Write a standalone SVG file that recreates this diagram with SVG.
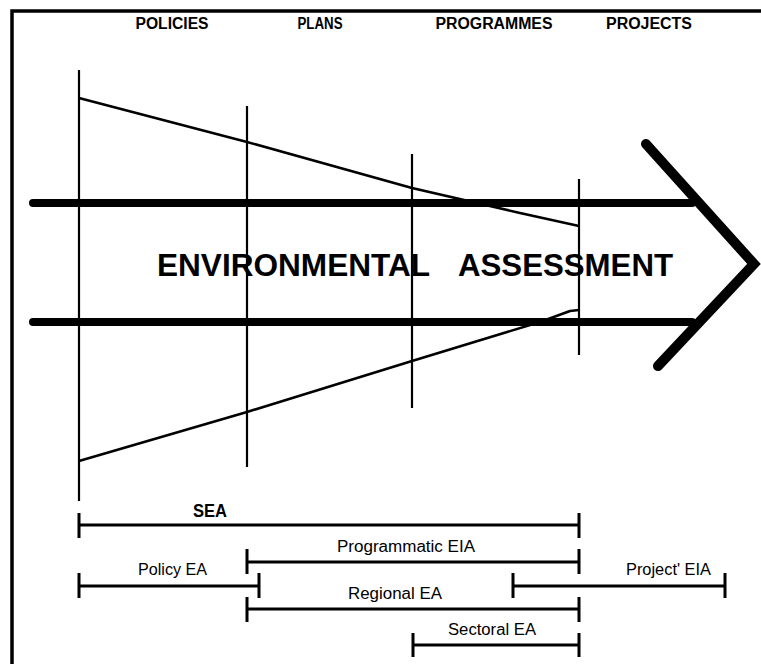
<svg xmlns="http://www.w3.org/2000/svg" width="761" height="664" viewBox="0 0 761 664">
  <style>
    .frame { fill: none; stroke: #000; stroke-width: 3.5; }
    .stage { stroke: #000; stroke-width: 2.2; fill: none; }
    .taper { stroke: #000; stroke-width: 2.6; fill: none; stroke-linejoin: round; }
    .shaft { stroke: #000; stroke-width: 8; fill: none; stroke-linecap: round; }
    .head { stroke: #000; stroke-width: 10; fill: none; stroke-linecap: round; stroke-linejoin: miter; }
    .bar { stroke: #000; stroke-width: 3; fill: none; }
    .hdr { font-family: "Liberation Sans", Arial, sans-serif; font-weight: bold; font-size: 16px; fill: #000; text-anchor: middle; }
    .big { font-family: "Liberation Sans", Arial, sans-serif; font-weight: bold; font-size: 32px; fill: #000; }
    .lbl { font-family: "Liberation Sans", Arial, sans-serif; font-size: 16px; fill: #000; }
    .lblb { font-family: "Liberation Sans", Arial, sans-serif; font-size: 18px; font-weight: bold; fill: #000; }
  </style>

  <rect width="761" height="664" fill="#fff"/>
  <path class="frame" d="M12,664 V11 H761"/>

  <!-- stage headings -->
  <g id="headings">
    <text class="hdr" x="172" y="29" textLength="73" lengthAdjust="spacingAndGlyphs">POLICIES</text>
    <text class="hdr" x="320" y="29" textLength="45" lengthAdjust="spacingAndGlyphs">PLANS</text>
    <text class="hdr" x="494" y="29" textLength="117" lengthAdjust="spacingAndGlyphs">PROGRAMMES</text>
    <text class="hdr" x="649" y="29" textLength="86" lengthAdjust="spacingAndGlyphs">PROJECTS</text>
  </g>

  <!-- assessment arrow -->
  <g id="arrow">
    <line class="shaft" x1="33" y1="203" x2="692" y2="203"/>
    <line class="shaft" x1="33" y1="322" x2="692" y2="322"/>
    <polyline class="head" points="646,144 754,264 658,366"/>
  </g>

  <!-- stage boundaries -->
  <g id="stages">
    <line class="stage" x1="79" y1="70" x2="79" y2="501"/>
    <line class="stage" x1="247" y1="106" x2="247" y2="467"/>
    <line class="stage" x1="412" y1="154" x2="412" y2="408"/>
    <line class="stage" x1="579" y1="179" x2="579" y2="355"/>
  </g>

  <!-- narrowing scope -->
  <g id="taper">
    <polyline class="taper" points="79,98 247,142 412,188 520,213 579,226"/>
    <polyline class="taper" points="79,461 247,412 412,361 540,322 570,311 579,310"/>
  </g>

  <g id="title">
    <text class="big" x="157" y="276" textLength="273" lengthAdjust="spacingAndGlyphs">ENVIRONMENTAL</text>
    <text class="big" x="458" y="276" textLength="215" lengthAdjust="spacingAndGlyphs">ASSESSMENT</text>
  </g>

  <!-- coverage bars -->
  <g id="sea">
    <path class="bar" d="M79,513 V538 M79,525 H579 M579,513 V538"/>
    <text class="lblb" x="193" y="517" textLength="34" lengthAdjust="spacingAndGlyphs">SEA</text>
  </g>
  <g id="programmatic-eia">
    <path class="bar" d="M247,549 V574 M247,562 H579 M579,549 V574"/>
    <text class="lbl" x="337" y="552" textLength="138" lengthAdjust="spacingAndGlyphs">Programmatic EIA</text>
  </g>
  <g id="policy-ea">
    <path class="bar" d="M79,573 V598 M79,586 H259 M259,573 V598"/>
    <text class="lbl" x="138" y="575" textLength="69" lengthAdjust="spacingAndGlyphs">Policy EA</text>
  </g>
  <g id="project-eia">
    <path class="bar" d="M513,573 V598 M513,586 H725 M725,573 V598"/>
    <text class="lbl" x="626" y="575" textLength="85" lengthAdjust="spacingAndGlyphs">Project' EIA</text>
  </g>
  <g id="regional-ea">
    <path class="bar" d="M247,597 V622 M247,609 H579 M579,597 V622"/>
    <text class="lbl" x="348" y="599" textLength="94" lengthAdjust="spacingAndGlyphs">Regional EA</text>
  </g>
  <g id="sectoral-ea">
    <path class="bar" d="M413,633 V657 M413,645 H579 M579,633 V657"/>
    <text class="lbl" x="448" y="635" textLength="88" lengthAdjust="spacingAndGlyphs">Sectoral EA</text>
  </g>
</svg>
